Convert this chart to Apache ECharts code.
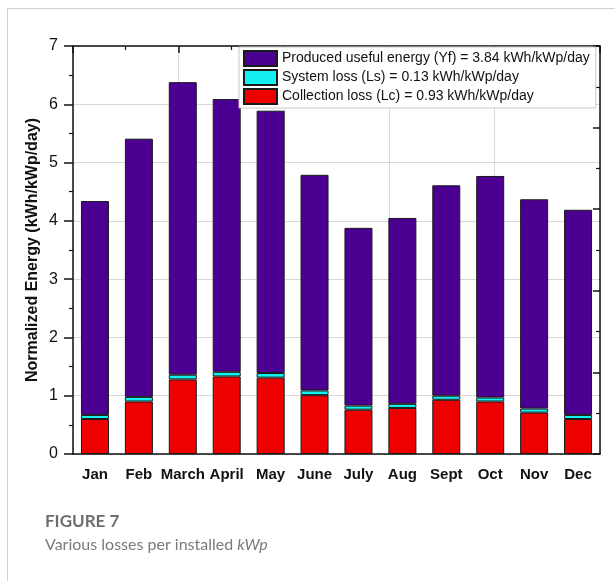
<!DOCTYPE html>
<html>
<head>
<meta charset="utf-8">
<script src="https://cdn.jsdelivr.net/npm/echarts@6/dist/echarts.min.js"></script>
<style>
html,body{margin:0;padding:0;background:#fff;}
#frame{position:absolute;left:7px;top:8px;width:620px;height:600px;border-left:1px solid #d0d0d0;border-top:1px solid #d0d0d0;}
#c{position:absolute;left:0;top:0;width:615px;height:581px;}
</style>
</head>
<body>
<div id="frame"></div>
<div id="c"></div>
<script>
const months = ['Jan','Feb','March','April','May','June','July','Aug','Sept','Oct','Nov','Dec'];
const collectionLoss = [0.60, 0.90, 1.28, 1.33, 1.31, 1.01, 0.76, 0.79, 0.93, 0.90, 0.71, 0.60];
const systemLoss     = [0.07, 0.08, 0.08, 0.08, 0.08, 0.08, 0.07, 0.07, 0.07, 0.07, 0.07, 0.07];
const usefulEnergy   = [3.67, 4.43, 5.02, 4.68, 4.50, 3.70, 3.05, 3.19, 3.61, 3.80, 3.59, 3.52];
const seriesNames = [
  'Produced useful energy (Yf) = 3.84 kWh/kWp/day',
  'System loss (Ls) = 0.13 kWh/kWp/day',
  'Collection loss (Lc) = 0.93 kWh/kWp/day'
];
const yTicks = [0,1,2,3,4,5,6,7];

const chart = echarts.init(document.getElementById('c'), null, {renderer:'canvas'});
const font = 'Liberation Sans, Arial, sans-serif';
const bar = (name, data, color) => ({
  name, type:'bar', stack:'total', data, barWidth:28,
  itemStyle:{color, borderColor:'#1a1a1a', borderWidth:1},
  emphasis:{disabled:true}
});
chart.setOption({
  backgroundColor:'transparent',
  animation:false,
  textStyle:{fontFamily:font},
  title:[
    {text:'FIGURE 7', left:40, top:508, textStyle:{fontFamily:'Lato, Open Sans, sans-serif', fontSize:17, fontWeight:'bold', color:'#6e6e6e'}},
    {text:'Various losses per installed {i|kWp}', left:40, top:532,
     textStyle:{fontFamily:'Lato, Open Sans, sans-serif', fontSize:16, fontWeight:'normal', color:'#7a7a7a',
       rich:{i:{fontStyle:'italic', fontFamily:'Lato, Open Sans, sans-serif', fontSize:16, color:'#7a7a7a'}}}}
  ],
  grid:{left:73, right:15, top:46, bottom:127, containLabel:false},
  legend:{
    data:seriesNames, orient:'vertical', left:239, top:47,
    padding:[3,6,3,4], itemGap:2, itemWidth:33, itemHeight:15, icon:'rect',
    backgroundColor:'#fff', borderColor:'#c8c8c8', borderWidth:1,
    textStyle:{fontFamily:font, fontSize:14, color:'#111', lineHeight:16},
    selectedMode:false
  },
  xAxis:[
    {type:'category', data:months, position:'bottom',
     axisLine:{lineStyle:{color:'#111', width:1.5}},
     axisTick:{alignWithLabel:true, length:6, lineStyle:{color:'#111', width:1.5}},
     axisLabel:{fontFamily:font, fontSize:15, fontWeight:'bold', color:'#111', margin:13, interval:0},
     splitLine:{show:false}},
    {type:'category', data:months, position:'bottom',
     axisLine:{show:false},
     axisTick:{length:4, lineStyle:{color:'#111', width:1.2}},
     axisLabel:{show:false}, splitLine:{show:false}},
    {type:'value', position:'top', min:0, max:5, interval:1,
     axisLine:{show:true, lineStyle:{color:'#111', width:1.5}},
     axisTick:{show:true, inside:true, length:7, lineStyle:{color:'#111', width:1.5}},
     minorTick:{show:true, splitNumber:2, length:4, lineStyle:{color:'#111', width:1.2}},
     axisLabel:{show:false},
     splitLine:{show:true, lineStyle:{color:'#d8d8d8', width:1}}}
  ],
  yAxis:[
    {type:'value', min:yTicks[0], max:yTicks[yTicks.length-1], interval:1,
     name:'Normalized Energy (kWh/kWp/day)', nameLocation:'middle', nameGap:32, nameRotate:90,
     nameMoveOverlap:false,
     nameTextStyle:{fontFamily:font, fontSize:16, fontWeight:'bold', color:'#111'},
     axisLine:{show:true, lineStyle:{color:'#111', width:1.5}},
     axisTick:{show:true, length:9, lineStyle:{color:'#111', width:1.5}},
     minorTick:{show:true, splitNumber:2, length:4, lineStyle:{color:'#111', width:1.2}},
     axisLabel:{fontFamily:font, fontSize:16, color:'#111', margin:15},
     splitLine:{show:true, lineStyle:{color:'#d8d8d8', width:1}}},
    {type:'value', position:'right', min:0, max:5, interval:1,
     axisLine:{show:true, lineStyle:{color:'#111', width:1.5}},
     axisTick:{show:true, inside:true, length:7, lineStyle:{color:'#111', width:1.5}},
     minorTick:{show:true, splitNumber:2, length:4, lineStyle:{color:'#111', width:1.2}},
     axisLabel:{show:false}, splitLine:{show:false}}
  ],
  series:[
    bar(seriesNames[2], collectionLoss, '#ee0000'),
    bar(seriesNames[1], systemLoss, '#14f0f0'),
    bar(seriesNames[0], usefulEnergy, '#4c0092')
  ]
});
</script>
</body>
</html>
